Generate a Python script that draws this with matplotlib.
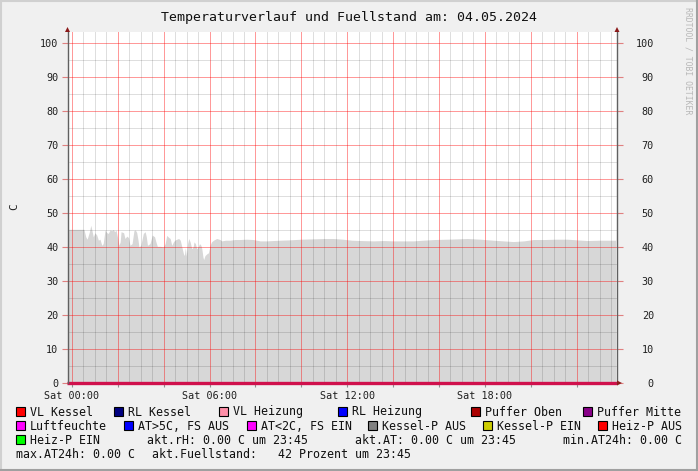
import matplotlib
matplotlib.use('Agg')
import matplotlib.pyplot as plt
from matplotlib.patches import Rectangle, Polygon
from matplotlib.transforms import Affine2D

W, H = 698, 471

# Fuellstand (percent) over the day, hours since 00:00
hours = [-0.20, 0.52, 0.60, 0.66, 0.76, 0.82, 0.88, 0.93, 1.00, 1.08, 1.15, 1.22, 1.30, 1.36,
         1.44, 1.52, 1.58, 1.66, 1.73, 1.80, 1.86, 1.92, 1.98, 2.05, 2.10, 2.14, 2.25, 2.31,
         2.39, 2.46, 2.53, 2.62, 2.70, 2.76, 2.82, 2.88, 2.92, 3.00, 3.11, 3.19, 3.24, 3.29,
         3.40, 3.50, 3.60, 3.66, 3.72, 3.85, 3.98, 4.06, 4.13, 4.22, 4.28, 4.35, 4.42, 4.48,
         4.57, 4.65, 4.72, 4.79, 4.86, 4.90, 4.94, 4.98, 5.04, 5.09, 5.15, 5.22, 5.28, 5.32,
         5.38, 5.44, 5.50, 5.56, 5.62, 5.66, 5.71, 5.74, 5.80, 5.88, 5.95, 6.02, 6.08, 6.17,
         6.31, 6.45, 6.53, 6.70, 6.90, 7.10, 7.33, 7.60, 7.90, 8.05, 8.20, 8.50, 8.77, 9.08,
         9.50, 10.00, 10.52, 11.00, 11.39, 11.80, 12.20, 12.60, 13.14, 13.60, 14.00, 14.50,
         14.88, 15.30, 15.80, 16.36, 16.80, 17.24, 17.80, 18.37, 18.80, 19.24, 19.70, 20.12,
         20.60, 21.10, 21.60, 22.00, 22.47, 23.00, 23.40, 23.70]
fuellstand = [45.2, 45.2, 43.0, 42.3, 44.5, 46.4, 44.5, 43.0, 44.2, 43.5, 42.0, 42.3, 40.5, 41.0,
              45.0, 44.2, 44.0, 45.0, 44.8, 45.1, 44.5, 45.0, 43.0, 40.5, 41.5, 44.5, 44.2, 42.5,
              43.2, 42.8, 40.5, 41.0, 44.8, 45.0, 44.3, 42.0, 40.0, 40.5, 44.0, 44.5, 43.0, 40.5,
              41.0, 43.5, 43.0, 41.5, 40.2, 40.2, 40.0, 41.0, 43.4, 42.8, 42.5, 40.5, 41.5, 42.0,
              42.3, 42.5, 42.0, 40.0, 38.0, 37.5, 39.8, 37.3, 41.0, 42.5, 41.5, 39.5, 40.0, 41.5,
              41.0, 39.5, 40.0, 41.0, 40.5, 39.5, 37.0, 36.3, 37.5, 38.0, 38.3, 40.5, 41.5, 42.0,
              42.5, 42.2, 41.8, 42.0, 42.0, 42.2, 42.2, 42.3, 42.2, 42.0, 41.8, 41.8, 41.9, 42.0,
              42.1, 42.3, 42.4, 42.5, 42.5, 42.3, 42.0, 41.9, 41.8, 41.9, 41.8, 41.8,
              41.8, 42.0, 42.2, 42.3, 42.4, 42.5, 42.3, 42.0, 41.8, 41.6, 41.8, 42.2,
              42.2, 42.3, 42.3, 42.1, 41.9, 42.0, 42.0, 42.0]

# all temperature series sit at 0
zero_hours = [-0.20, 23.76]
zero_values = [0, 0]

xticks = [0, 2, 4, 6, 8, 10, 12, 14, 16, 18, 20, 22]
xtick_labels = ['Sat 00:00', '', '', 'Sat 06:00', '', '', 'Sat 12:00', '', '', 'Sat 18:00', '', '']
xminor = [0.5, 1, 1.5, 2.5, 3, 3.5, 4.5, 5, 5.5, 6.5, 7, 7.5, 8.5, 9, 9.5, 10.5, 11, 11.5,
          12.5, 13, 13.5, 14.5, 15, 15.5, 16.5, 17, 17.5, 18.5, 19, 19.5, 20.5, 21, 21.5,
          22.5, 23, 23.5]
yticks = [0, 10, 20, 30, 40, 50, 60, 70, 80, 90, 100]
yminor = [5, 15, 25, 35, 45, 55, 65, 75, 85, 95]

legend_rows = [
    [('VL Kessel', '#ff0000', 16), ('RL Kessel', '#000080', 114), ('VL Heizung', '#ff8fa8', 219),
     ('RL Heizung', '#0000ff', 338), ('Puffer Oben', '#aa0000', 471), ('Puffer Mitte', '#880088', 583)],
    [('Luftfeuchte', '#ff00ff', 16), ('AT>5C, FS AUS', '#0000ff', 124), ('AT<2C, FS EIN', '#ff00ff', 247),
     ('Kessel-P AUS', '#808080', 368), ('Kessel-P EIN', '#cccc00', 483), ('Heiz-P AUS', '#ff0000', 598)],
    [('Heiz-P EIN', '#00ff00', 16)],
]
info_texts = [
    ('akt.rH: 0.00 C um 23:45', 147, 443.5),
    ('akt.AT: 0.00 C um 23:45', 355, 443.5),
    ('min.AT24h: 0.00 C', 563, 443.5),
    ('max.AT24h: 0.00 C', 16, 457.5),
    ('akt.Fuellstand:   42 Prozent um 23:45', 151.5, 457.5),
]

plt.rcParams['font.family'] = 'DejaVu Sans Mono'

fig = plt.figure(figsize=(W / 100, H / 100), dpi=100, facecolor='#f0f0f0')
pix = Affine2D().scale(1 / W, -1 / H).translate(0, 1) + fig.transFigure

x0, x1, y0, y1 = 67.5, 617, 32, 383
ax = fig.add_axes([x0 / W, 1 - y1 / H, (x1 - x0) / W, (y1 - y0) / H])
ax.set_facecolor('white')

ax.fill_between(hours, 0, fuellstand, color='#d7d7d7', lw=0, zorder=1)

ax.set_xlim(-0.196, 23.76)
ax.set_ylim(0, 103.24)

# rrdtool style grid, drawn over the area
grid_kw = dict(lw=0.72, snap=True, antialiased=False)
ax.vlines(xminor, 0, 1, transform=ax.get_xaxis_transform(), colors='black', alpha=0.13,
          zorder=2, **grid_kw)
ax.hlines(yminor, 0, 1, transform=ax.get_yaxis_transform(), colors='black', alpha=0.13,
          zorder=2, **grid_kw)
ax.vlines(xticks, 0, 1, transform=ax.get_xaxis_transform(), colors='#ff0000', alpha=0.4,
          zorder=2.2, **grid_kw)
ax.hlines(yticks, 0, 1, transform=ax.get_yaxis_transform(), colors='#ff0000', alpha=0.4,
          zorder=2.2, **grid_kw)

ax.plot(zero_hours, zero_values, color='#d0104c', lw=2.4, zorder=3, clip_on=False,
        solid_capstyle='butt')

ax.set_xticks(xticks)
ax.set_xticklabels(xtick_labels)
ax.set_yticks(yticks)
ax.tick_params(axis='x', length=3, width=0.8, color='#909090', pad=3,
               labelsize=7.3, labelcolor='#202020')
ax.tick_params(axis='y', length=4, width=0.8, color='#e08080', pad=2.5,
               labelsize=7.3, labelcolor='#202020', right=True, labelright=True)

# right labels end at x=654 like rrdtool
for t in ax.yaxis.get_major_ticks():
    t.label2.set_horizontalalignment('right')
    t.label2.set_transform(ax.get_yaxis_transform(which='tick2') +
                           Affine2D().translate(654 - 617, 0))

for s in ['top', 'bottom']:
    ax.spines[s].set_visible(False)
for s in ['left', 'right']:
    ax.spines[s].set_color('#606060')
    ax.spines[s].set_linewidth(1.0)
    ax.spines[s].set_zorder(4)

# axis arrows
arrow_col = '#8b1a1a'
for ax_x in [x0, x1]:
    fig.add_artist(Polygon([(ax_x - 2.5, y0), (ax_x + 2.5, y0), (ax_x, y0 - 5)],
                           closed=True, transform=pix, color=arrow_col, lw=0))
fig.add_artist(Polygon([(x1, y1 - 2.5), (x1, y1 + 2.5), (x1 + 5, y1)],
                       closed=True, transform=pix, color=arrow_col, lw=0))

# title and labels
fig.text(349, 21, 'Temperaturverlauf und Fuellstand am: 04.05.2024', transform=pix,
         ha='center', va='baseline', fontsize=9.5, color='#101010')
fig.text(14, 207, 'C', transform=pix, rotation=90, ha='center', va='center',
         fontsize=8, color='#202020')
fig.text(688, 7, 'RRDTOOL / TOBI OETIKER', transform=pix, rotation=270, ha='center',
         va='top', fontsize=5.9, color='#b8b8b8')

# legend
baselines = [415.5, 429.5, 443.5]
for row, base in zip(legend_rows, baselines):
    for label, col, bx in row:
        fig.add_artist(Rectangle((bx, base - 8.5), 9, 9, transform=pix, facecolor=col,
                                 edgecolor='black', lw=0.8))
        fig.text(bx + 14, base, label, transform=pix, ha='left', va='baseline',
                 fontsize=8.4, color='#101010')
for txt, tx, ty in info_texts:
    fig.text(tx, ty, txt, transform=pix, ha='left', va='baseline', fontsize=8.4,
             color='#101010')

# outer frame
fig.add_artist(plt.Line2D([0, W], [1, 1], transform=pix, color='#d0d0d0', lw=1.5))
fig.add_artist(plt.Line2D([1, 1], [0, H], transform=pix, color='#d0d0d0', lw=1.5))
fig.add_artist(plt.Line2D([0, W], [H - 1, H - 1], transform=pix, color='#a0a0a0', lw=1.5))
fig.add_artist(plt.Line2D([W - 1, W - 1], [0, H], transform=pix, color='#a0a0a0', lw=1.5))

fig.savefig('out.png', dpi=100, facecolor=fig.get_facecolor())
